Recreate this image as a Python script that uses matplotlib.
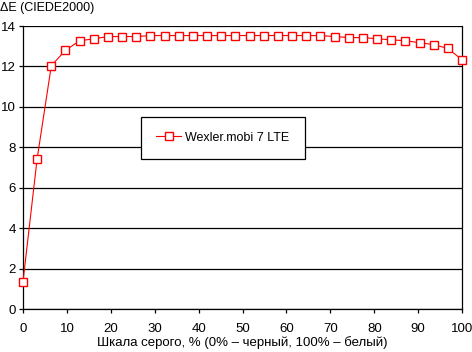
import matplotlib.pyplot as plt
import numpy as np

# grey level in percent (32 steps) and measured dE
gray_pct = np.arange(32) / 31 * 100
delta_e = [1.35, 7.44, 12.04, 12.8, 13.27, 13.37, 13.48, 13.48, 13.48, 13.53,
           13.53, 13.53, 13.53, 13.53, 13.53, 13.53, 13.53, 13.53, 13.53, 13.53,
           13.53, 13.53, 13.48, 13.43, 13.43, 13.37, 13.32, 13.27, 13.18, 13.08,
           12.89, 12.33]
series_name = "Wexler.mobi 7 LTE"
x_ticks = [0, 10, 20, 30, 40, 50, 60, 70, 80, 90, 100]
y_ticks = [0, 2, 4, 6, 8, 10, 12, 14]

plt.rcParams['font.family'] = ['Liberation Sans', 'DejaVu Sans']
plt.rcParams['font.size'] = 9.5

fig = plt.figure(figsize=(4.72, 3.52), dpi=100)
ax = fig.add_axes([0.0487, 0.122, 0.9303, 0.804])

ax.plot(gray_pct, delta_e, color="red", lw=0.8, marker="s", ms=5.5,
        mfc="white", mec="red", mew=1.0, label=series_name, clip_on=False, zorder=3)

ax.set_xlim(0, 100)
ax.set_ylim(0, 14)
ax.set_xticks(x_ticks)
ax.set_yticks(y_ticks)
ax.grid(axis="y", color="black", lw=0.9)
ax.set_axisbelow(True)
for side in ["left", "bottom", "right"]:
    ax.spines[side].set_color("black")
    ax.spines[side].set_linewidth(0.9)
ax.spines["top"].set_visible(False)
ax.tick_params(length=3, width=0.9, color="black", pad=2)
ax.tick_params(axis="x", pad=7)

ax.set_xlabel("Шкала серого, % (0% – черный, 100% – белый)", labelpad=1)
fig.text(0.0, 0.993, "ΔE (CIEDE2000)", ha="left", va="top", fontsize=9)

leg = ax.legend(loc="center", bbox_to_anchor=(0.455, 0.605), frameon=True,
                fancybox=False, borderpad=1.2, handlelength=2.0,
                handletextpad=0.35, borderaxespad=0, fontsize=9)
leg.get_frame().set_edgecolor("black")
leg.get_frame().set_linewidth(0.9)
leg.get_frame().set_facecolor("white")
leg.get_frame().set_alpha(1)

plt.savefig("out.png", dpi=100)
